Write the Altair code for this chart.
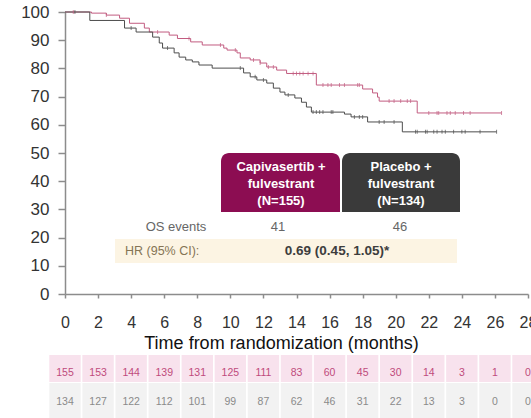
import altair as alt
import pandas as pd

FONT = "Liberation Sans"
PINK = "#c25c80"
GREY = "#4d4d4d"

# Kaplan-Meier curves: months at which the estimate changes, and OS (%)
capi_times = [0, 1.6, 2.5, 3.3, 3.9, 4.8, 5.1, 6.3, 6.8, 7.6, 8.3, 9.6, 9.8, 10.4,
              10.6, 11.2, 11.8, 12.2, 12.8, 13.4, 15.2, 18.0, 18.6, 18.9, 19.0, 21.3]
capi_surv = [100, 99.6, 98.9, 97.8, 96.0, 94.3, 92.9, 91.8, 90.6, 89.4, 88.3, 87.2, 86.5, 85.5,
             83.7, 83.0, 81.9, 80.5, 79.4, 78.2, 74.1, 72.7, 71.3, 69.8, 68.4, 64.2]
capi_last = 26.4
capi_censored = [0.5, 2.5, 5.6, 7.5, 9.4, 10.3, 11.4, 11.8, 12.3, 12.6, 13.8, 14.0, 14.2, 14.4,
                 14.7, 15.0, 15.6, 15.9, 16.1, 16.6, 16.9, 17.7, 17.8, 19.6, 19.9, 20.3, 20.7,
                 20.9, 22.0, 22.5, 22.6, 23.1, 23.3, 23.6, 24.1, 24.5, 26.4]

placebo_times = [0, 1.5, 3.6, 4.3, 5.3, 5.7, 5.9, 6.6, 6.9, 7.3, 7.7, 8.1, 8.9, 10.8, 11.2,
                 11.6, 12.2, 12.6, 13.0, 13.3, 13.9, 14.3, 14.6, 14.9, 16.9, 17.3, 18.3, 20.4]
placebo_surv = [100, 97.0, 94.3, 92.9, 91.1, 89.0, 87.2, 85.5, 84.0, 83.0, 82.3, 81.2, 80.1,
                78.4, 77.0, 75.9, 74.8, 73.0, 71.6, 70.6, 69.5, 68.0, 66.3, 64.5, 63.8, 62.8,
                61.0, 57.5]
placebo_last = 26.1
placebo_censored = [0.6, 4.0, 6.2, 10.6, 11.5, 12.0, 13.5, 15.0, 15.2, 15.4, 15.6, 16.1, 16.2,
                    17.5, 17.8, 18.0, 19.0, 19.3, 19.9, 21.2, 21.3, 21.8, 21.9, 22.3, 22.5,
                    22.8, 23.0, 23.5, 24.0, 24.2, 25.1, 26.1]

# Numbers at risk
risk_months = list(range(0, 29, 2))
capi_at_risk = [155, 153, 144, 139, 131, 125, 111, 83, 60, 45, 30, 14, 3, 1, 0]
placebo_at_risk = [134, 127, 122, 112, 101, 99, 87, 62, 46, 31, 22, 13, 3, 0, 0]

arms = ["Capivasertib + fulvestrant", "Placebo + fulvestrant"]
arm_colors = [PINK, GREY]


def step_frame(times, surv, last, arm):
    df = pd.DataFrame({"t": times + [last], "s": surv + [surv[-1]]})
    df["arm"] = arm
    return df


def censor_frame(times, surv, cens, arm):
    rows = []
    for c in cens:
        val = [s for t, s in zip(times, surv) if t <= c][-1]
        rows.append({"t": c, "s": val, "arm": arm})
    return pd.DataFrame(rows)


curves = pd.concat([
    step_frame(capi_times, capi_surv, capi_last, arms[0]),
    step_frame(placebo_times, placebo_surv, placebo_last, arms[1]),
])
ticks = pd.concat([
    censor_frame(capi_times, capi_surv, capi_censored, arms[0]),
    censor_frame(placebo_times, placebo_surv, placebo_censored, arms[1]),
])

x_scale = alt.Scale(domain=[0, 28], nice=False, zero=False)
y_scale = alt.Scale(domain=[0, 100], nice=False)
color = alt.Color("arm:N", scale=alt.Scale(domain=arms, range=arm_colors), legend=None)

x_axis = alt.Axis(values=risk_months, grid=False, tickSize=4, tickWidth=1.5, tickColor="#8c8c8c",
                  domainColor="#8c8c8c", domainWidth=1.5, labelFont=FONT, labelFontSize=16,
                  labelColor="#333333", labelPadding=16, labelOverlap=False, labelFlush=False,
                  title="Time from randomization (months)",
                  titleFont=FONT, titleFontSize=18, titleFontWeight="normal", titleColor="#111111",
                  titleX=216, titleY=49, titleBaseline="middle")
y_axis = alt.Axis(values=list(range(0, 101, 10)), grid=False, tickSize=7, tickWidth=1.5,
                  tickColor="#8c8c8c", domainColor="#8c8c8c", domainWidth=1.5, labelFont=FONT,
                  labelFontSize=17, labelColor="#333333", labelPadding=9, labelOverlap=False,
                  labelFlush=False, title=None)

lines = alt.Chart(curves).mark_line(interpolate="step-after", strokeWidth=1).encode(
    x=alt.X("t:Q", scale=x_scale, axis=x_axis),
    y=alt.Y("s:Q", scale=y_scale, axis=y_axis),
    color=color,
    detail="arm:N",
)
censor_marks = alt.Chart(ticks).mark_tick(orient="vertical", size=4, thickness=1).encode(
    x=alt.X("t:Q", scale=x_scale, axis=x_axis),
    y=alt.Y("s:Q", scale=y_scale, axis=y_axis),
    color=color,
)


def box(x1, x2, y1, y2, fill, radius=0):
    return alt.Chart(pd.DataFrame({"k": [0]})).mark_rect(
        fill=fill, cornerRadiusTopLeft=radius, cornerRadiusTopRight=radius
    ).encode(x=alt.value(x1), x2=alt.value(x2), y=alt.value(y1), y2=alt.value(y2))


def label(text, x, y, size=10, color="#333333", weight="normal", align="center"):
    return alt.Chart(pd.DataFrame({"k": [0]})).mark_text(
        text=text, font=FONT, fontSize=size, color=color, fontWeight=weight, align=align,
        baseline="middle"
    ).encode(x=alt.value(x), y=alt.value(y))


# Treatment arm headers, event counts and hazard ratio
annotations = [
    box(156, 275, 141, 200, "#8c0d52", 8),
    box(277, 395, 141, 200, "#3a3a3a", 8),
    label("Capivasertib +", 216, 155, 13, "white", "bold"),
    label("fulvestrant", 216, 172, 13, "white", "bold"),
    label("(N=155)", 216, 189, 13, "white", "bold"),
    label("Placebo +", 336, 155, 13, "white", "bold"),
    label("fulvestrant", 336, 172, 13, "white", "bold"),
    label("(N=134)", 336, 189, 13, "white", "bold"),
    label("OS events", 111, 215, 13, "#666666"),
    label("41", 213, 215, 13, "#666666"),
    label("46", 335, 215, 13, "#666666"),
    box(50, 392, 227, 251, "#fcf4e3"),
    label("HR (95% CI):", 60, 239, 12.5, "#857555", align="left"),
    label("0.69 (0.45, 1.05)*", 272, 239, 13.5, "#3d3d3d", "bold"),
]

# Numbers-at-risk table under the time axis
risk = pd.DataFrame({
    "month": risk_months * 2,
    "n": capi_at_risk + placebo_at_risk,
    "arm": [arms[0]] * len(risk_months) + [arms[1]] * len(risk_months),
})
risk["lo"] = risk["month"] - 0.95
risk["hi"] = risk["month"] + 0.95

row_cells = []
row_text = []
for arm, fill, ink, y1, y2, yt in [(arms[0], "#f8e2ed", "#bf4b7c", 343, 370, 361),
                                   (arms[1], "#f2f2f2", "#8a8a8a", 371, 410, 390)]:
    sub = alt.Chart(risk).transform_filter(alt.datum.arm == arm)
    row_cells.append(sub.mark_rect(fill=fill).encode(
        x=alt.X("lo:Q", scale=x_scale, axis=x_axis), x2="hi:Q",
        y=alt.value(y1), y2=alt.value(y2)))
    row_text.append(sub.mark_text(font=FONT, fontSize=10.5, color=ink, baseline="middle").encode(
        x=alt.X("month:Q", scale=x_scale, axis=x_axis), y=alt.value(yt), text="n:Q"))

chart = alt.layer(
    *annotations, *row_cells, *row_text, lines, censor_marks
).properties(
    width=463, height=282,
    autosize=alt.AutoSizeParams(type="none"),
    padding={"left": 65, "top": 12, "right": 3, "bottom": 124},
).configure(background="white").configure_view(stroke=None)

chart.save("out.html", embed_options={"renderer": "svg", "actions": False})
